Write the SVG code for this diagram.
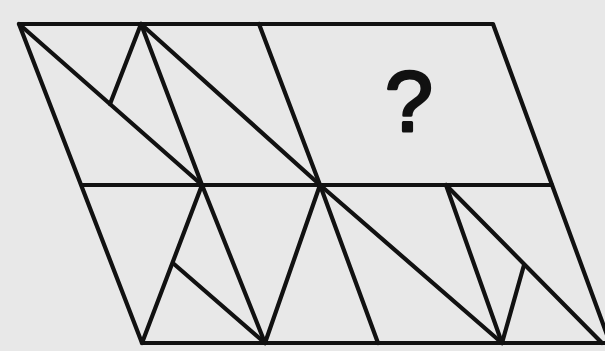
<svg xmlns="http://www.w3.org/2000/svg" width="605" height="351" viewBox="0 0 605 351">
<style>
.l{stroke:#111;stroke-width:4.2;stroke-linecap:round;stroke-linejoin:round;fill:none}
.q{font-family:"Liberation Sans",Arial,sans-serif;font-size:86px;fill:#111;stroke:#111;stroke-width:3;stroke-linejoin:round}
</style>
<rect width="605" height="351" fill="#e8e8e8"/>
<g id="outline">
<polygon class="l" points="19,24 493,24 610,343 142,343"/>
<line class="l" x1="82" y1="185" x2="552" y2="185"/>
</g>
<g id="connectors">
<line class="l" x1="19" y1="24" x2="202" y2="185"/>
<line class="l" x1="141" y1="24" x2="110" y2="104"/>
<line class="l" x1="141" y1="24" x2="202" y2="185"/>
<line class="l" x1="141" y1="24" x2="320" y2="185"/>
<line class="l" x1="259" y1="24" x2="320" y2="185"/>
<line class="l" x1="202" y1="185" x2="142" y2="343"/>
<line class="l" x1="202" y1="185" x2="265" y2="343"/>
<line class="l" x1="174" y1="264" x2="265" y2="343"/>
<line class="l" x1="320" y1="185" x2="265" y2="343"/>
<line class="l" x1="320" y1="185" x2="378" y2="343"/>
<line class="l" x1="320" y1="185" x2="502" y2="343"/>
<line class="l" x1="446" y1="185" x2="502" y2="343"/>
<line class="l" x1="446" y1="185" x2="602" y2="343"/>
<line class="l" x1="524" y1="265" x2="502" y2="343"/>
</g>
<g id="question">
<text class="q" x="409" y="131" text-anchor="middle">?</text>
</g>
</svg>
